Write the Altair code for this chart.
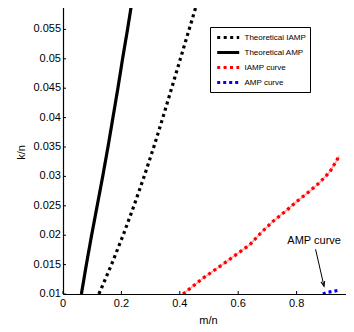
import altair as alt
import pandas as pd

# ---- data ----
theo_y = [0.010, 0.015, 0.020, 0.025, 0.030, 0.035, 0.040, 0.045, 0.050, 0.055, 0.060]
theo_amp_x = [0.063, 0.080, 0.098, 0.117, 0.136, 0.154, 0.171, 0.188, 0.204, 0.221, 0.237]
theo_iamp_x = [0.123, 0.166, 0.206, 0.243, 0.278, 0.311, 0.342, 0.372, 0.402, 0.432, 0.462]
iamp_x = [0.411, 0.480, 0.560, 0.640, 0.680, 0.720, 0.760, 0.800, 0.840, 0.880, 0.914, 0.937, 0.946]
iamp_y = [0.0100, 0.0127, 0.0155, 0.0184, 0.0205, 0.0224, 0.0240, 0.0257, 0.0273, 0.0290, 0.0308, 0.0327, 0.0335]
amp_x = [0.890, 0.905, 0.920, 0.940]
amp_y = [0.0100, 0.0103, 0.0104, 0.0106]
series = ["Theoretical IAMP", "Theoretical AMP", "IAMP curve", "AMP curve"]
colors = ["#000000", "#000000", "#ff0000", "#0000ff"]
dashes = [[3, 3.5], [1, 0], [3, 3.4], [3, 3]]
x_ticks = [0, 0.2, 0.4, 0.6, 0.8, 1.0]
x_labels = ["0", "0.2", "0.4", "0.6", "0.8", "1"]
y_ticks = [0.01, 0.015, 0.02, 0.025, 0.03, 0.035, 0.04, 0.045, 0.05, 0.055, 0.06]
y_label_vals = [0.01, 0.015, 0.02, 0.025, 0.03, 0.035, 0.04, 0.045, 0.05, 0.055]
y_labels = ["0.01", "0.015", "0.02", "0.025", "0.03", "0.035", "0.04", "0.045", "0.05", "0.055"]
note_text = "AMP curve"
note_pos = (0.86, 0.0190)
arrow_from = (0.865, 0.0176)
arrow_to = (0.894, 0.0113)

rows = []
for name, xs_, ys_ in [
    ("Theoretical IAMP", theo_iamp_x, theo_y),
    ("Theoretical AMP", theo_amp_x, theo_y),
    ("IAMP curve", iamp_x, iamp_y),
    ("AMP curve", amp_x, amp_y),
]:
    for i, (x, y) in enumerate(zip(xs_, ys_)):
        rows.append({"series": name, "m": x, "k": y, "i": i})
df = pd.DataFrame(rows)

W, H = 292, 294
xs = alt.Scale(domain=[0, 1], nice=False, zero=False)
ys = alt.Scale(domain=[0.01, 0.06], nice=False, zero=False)
FONT = "Liberation Sans"
PAD = "datum.label + '                      '"

xax = alt.Axis(title="m/n", labels=False, ticks=False, grid=False, domainColor="black",
               domainWidth=1.2, titleColor="black", titleFontSize=11, titleFont=FONT,
               titleFontWeight="normal", titleX=145, titleY=26, titleBaseline="middle",
               titleAlign="center", titleAnchor="middle")
yax = alt.Axis(title="k/n", labels=False, ticks=False, grid=False, domainColor="black",
               domainWidth=1.2, titleColor="black", titleFontSize=11, titleFont=FONT,
               titleFontWeight="normal", titleX=-41.5, titleY=152, titleBaseline="middle",
               titleAlign="center", titleAngle=270, titleAnchor="middle")

X = lambda f: alt.X(f, scale=xs, axis=xax)
Y = lambda f: alt.Y(f, scale=ys, axis=yax)

base = alt.Chart(df)

pink = base.transform_filter(alt.datum.series == "IAMP curve").mark_line(
    color="#ffaaaa", strokeWidth=1.6, clip=True
).encode(x=X("m:Q"), y=Y("k:Q"), order="i:Q")

lines = base.mark_line(strokeWidth=3.2, clip=True, strokeCap="butt").encode(
    x=X("m:Q"),
    y=Y("k:Q"),
    color=alt.Color("series:N", scale=alt.Scale(domain=series, range=colors),
                    legend=alt.Legend(title=None, labelExpr=PAD)),
    strokeDash=alt.StrokeDash("series:N", scale=alt.Scale(domain=series, range=dashes),
                              legend=alt.Legend(title=None, labelExpr=PAD)),
    order="i:Q",
    detail="series:N",
)

# inward ticks
xt = alt.Chart(pd.DataFrame({"m": x_ticks})).mark_rule(color="black", strokeWidth=1).encode(
    x=X("m:Q"), y=alt.value(H), y2=alt.value(H - 3))
yt = alt.Chart(pd.DataFrame({"k": y_ticks})).mark_rule(color="black", strokeWidth=1).encode(
    y=Y("k:Q"), x=alt.value(0), x2=alt.value(3))
yt_r = alt.Chart(pd.DataFrame({"k": y_ticks})).mark_rule(color="black", strokeWidth=1).encode(
    y=Y("k:Q"), x=alt.value(W), x2=alt.value(W - 3))

# tick labels
xl = alt.Chart(pd.DataFrame({"m": x_ticks, "t": x_labels})).mark_text(
    font=FONT, fontSize=11, color="black", baseline="middle", align="center"
).encode(x=X("m:Q"), y=alt.value(H + 10), text="t:N")
yl = alt.Chart(pd.DataFrame({"k": y_label_vals, "t": y_labels})).mark_text(
    font=FONT, fontSize=11, color="black", baseline="middle", align="right"
).encode(y=Y("k:Q"), x=alt.value(-2), text="t:N")

note = alt.Chart(pd.DataFrame({"m": [note_pos[0]], "k": [note_pos[1]], "t": [note_text]})).mark_text(
    font=FONT, fontSize=11, color="black", baseline="middle", align="center"
).encode(x=X("m:Q"), y=Y("k:Q"), text="t:N")

arrow = alt.Chart(pd.DataFrame({"m": [arrow_from[0]], "k": [arrow_from[1]],
                                "m2": [arrow_to[0]], "k2": [arrow_to[1]]})).mark_rule(
    color="black", strokeWidth=1
).encode(x=X("m:Q"), y=Y("k:Q"), x2="m2:Q", y2="k2:Q")

head = alt.Chart(pd.DataFrame({"m": [arrow_to[0]], "k": [arrow_to[1]]})).mark_point(
    shape="M-0.6,-1.6L0,0L0.6,-1.6", filled=False, color="black", strokeWidth=1,
    size=40, angle=346, opacity=1
).encode(x=X("m:Q"), y=Y("k:Q"))

chart = alt.layer(pink, lines, xt, yt, yt_r, xl, yl, note, arrow, head).properties(
    width=W, height=H,
    autosize=alt.AutoSizeParams(type="none"),
    padding={"left": 55, "top": -8, "right": -9, "bottom": 30},
).configure_view(stroke=None).configure_legend(
    orient="none", legendX=147, legendY=27, symbolType="M-0.6,0H3.4", symbolStrokeWidth=3,
    symbolSize=121, labelFontSize=8, labelFont=FONT, labelColor="black",
    strokeColor="black", fillColor="white", padding=3.5, rowPadding=2, labelOffset=17,
    labelLimit=0,
)

chart.save("out.html", embed_options={"renderer": "svg", "actions": False})
